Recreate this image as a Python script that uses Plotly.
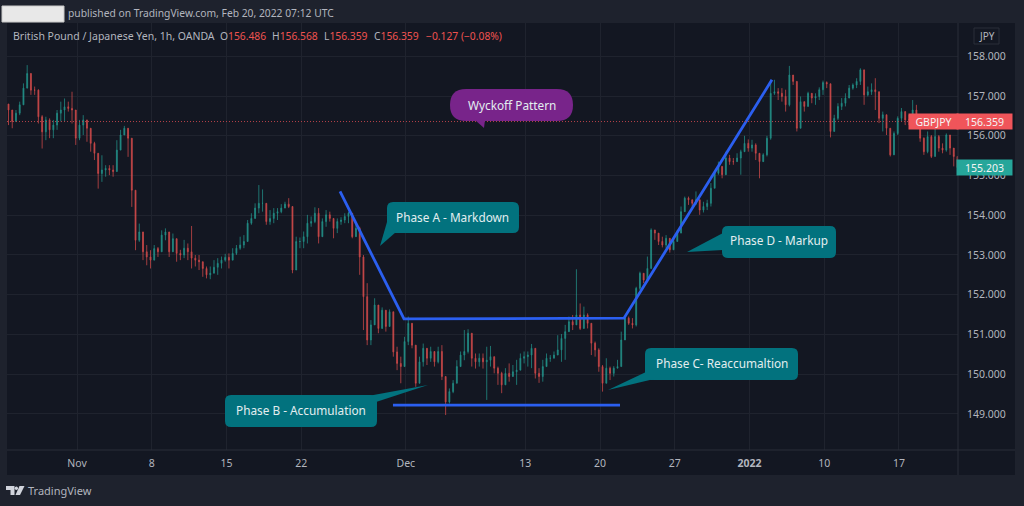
"""GBP/JPY Wyckoff pattern chart."""

import pandas as pd
import plotly.graph_objects as go

# 6h bars, starting Oct 25 2021 10:00
closes = [
    156.65, 156.36, 156.57, 156.78, 157.20, 157.57, 157.15, 157.15, 156.48, 156.10, 156.40, 156.15, 156.27, 156.57, 156.65,
    156.73, 156.69, 156.65, 155.94, 156.27, 156.40, 156.19, 155.81, 155.56, 155.05, 155.14, 155.18, 155.14, 155.10, 155.64,
    156.02, 156.19, 155.94, 154.63, 153.37, 153.58, 153.08, 152.95, 152.87, 153.16, 153.08, 153.50, 153.58, 153.08, 153.41,
    153.04, 153.00, 153.17, 153.08, 152.92, 152.87, 152.83, 152.66, 152.50, 152.54, 152.69, 152.79, 152.87, 152.94, 152.87,
    153.04, 153.17, 153.25, 153.34, 153.80, 153.92, 154.18, 154.30, 154.30, 153.84, 153.92, 154.05, 154.09, 154.18, 154.28,
    154.22, 152.62, 153.34, 153.34, 153.46, 153.80, 153.84, 154.05, 153.46, 153.84, 154.01, 153.92, 153.67, 153.84, 153.88,
    153.97, 154.05, 153.46, 153.67, 152.95, 151.95,
    150.86, 151.24, 151.74, 151.15, 151.61, 151.20, 151.57, 150.56, 150.27, 150.19, 150.82, 151.28, 150.73, 149.77, 150.31,
    150.65, 150.40, 150.57, 150.31, 150.57, 149.94, 149.30, 149.56, 149.77, 150.19, 150.48, 150.57, 151.03, 150.40, 150.31,
    150.40, 150.31, 150.35,
    150.44, 150.15, 150.02, 149.73, 150.02, 149.94, 150.06, 150.10, 150.40, 150.44, 150.48, 150.65, 150.02, 149.94, 150.19,
    150.40, 150.40, 150.48, 150.61, 150.90, 151.07, 151.32, 151.24, 151.49, 151.15, 151.49, 151.28, 150.78, 150.61, 150.19,
    149.77, 150.15, 150.02, 150.15, 150.19, 150.86, 151.41, 151.28, 151.24, 152.16, 152.54, 152.37,
    152.66, 153.63, 153.55, 153.34, 153.25, 153.42, 153.13, 153.34, 153.55, 154.09, 154.43, 154.39, 154.30, 154.39, 154.13,
    154.22, 154.30, 154.68, 155.06, 155.23, 155.02, 155.44, 155.35, 155.35, 155.44, 155.60, 155.81, 155.69, 155.77, 155.56,
    155.35, 155.52, 155.94, 157.07, 157.11, 157.07, 156.99, 156.78,
    157.53, 157.37, 156.19, 156.86, 156.74, 157.07, 156.95, 156.99, 157.16, 157.34, 157.31, 156.11, 156.44, 156.74, 156.82,
    156.95, 157.20, 157.28, 157.37, 157.66, 157.03, 157.11, 157.16, 157.11, 156.44, 156.53, 156.19, 155.52, 156.06, 156.44,
    156.61, 156.40, 156.40, 156.65, 156.44, 155.94, 155.60, 155.98, 155.48, 155.98, 155.69, 155.64, 156.02, 155.69, 155.48,
    155.20,
]
highs = [
    156.78, 156.65, 156.65, 156.86, 157.32, 157.78, 157.28, 157.24, 157.17, 156.52, 156.48, 156.44, 156.40, 156.65, 156.86,
    156.94, 156.86, 157.11, 156.36, 156.40, 156.52, 156.40, 155.94, 155.85, 155.39, 155.51, 155.26, 155.26, 155.26, 155.89,
    156.15, 156.25, 156.19, 155.56, 153.79, 153.79, 153.50, 153.25, 153.12, 153.25, 153.20, 153.62, 153.67, 153.37, 153.54,
    153.17, 153.13, 153.38, 153.29, 153.73, 153.00, 153.00, 152.83, 152.71, 152.71, 152.87, 152.92, 152.96, 153.03, 153.04,
    153.17, 153.25, 153.46, 153.50, 153.88, 154.05, 154.30, 154.76, 154.65, 154.26, 154.13, 154.18, 154.18, 154.28, 154.34,
    154.43, 154.13, 153.46, 153.44, 153.59, 154.01, 153.97, 154.20, 154.18, 153.92, 154.13, 154.09, 153.92, 153.92, 153.95,
    154.05, 154.09, 153.97, 153.80, 153.71, 153.00,
    152.29, 151.36, 151.91, 151.66, 151.68, 151.53, 151.63, 151.28, 150.69, 150.44, 150.94, 151.45, 151.07, 150.69, 150.44,
    150.77, 150.65, 150.69, 150.57, 150.69, 150.73, 149.94, 149.64, 149.85, 150.35, 150.57, 151.11, 151.13, 150.57, 150.52,
    150.52, 150.52, 150.69,
    150.71, 150.36, 150.19, 150.06, 150.15, 150.27, 150.23, 150.36, 150.52, 150.57, 150.57, 150.76, 150.15, 150.15, 150.36,
    150.52, 150.48, 150.57, 150.98, 151.01, 151.24, 151.45, 151.49, 152.64, 151.78, 151.70, 151.53, 151.28, 150.82, 150.65,
    150.23, 150.40, 150.19, 150.20, 150.36, 151.07, 151.45, 151.45, 151.41, 152.20, 152.58, 152.54,
    152.96, 153.67, 153.59, 153.55, 153.46, 153.50, 153.38, 153.46, 153.63, 154.22, 154.47, 154.47, 154.39, 154.60, 154.30,
    154.34, 154.39, 154.81, 155.10, 155.35, 155.23, 155.60, 155.52, 155.44, 155.56, 155.65, 156.00, 155.91, 155.90, 155.81,
    155.56, 155.56, 156.00, 157.41, 157.41, 157.20, 157.20, 157.16,
    157.76, 157.49, 157.32, 156.99, 156.86, 157.11, 157.07, 157.07, 157.22, 157.39, 157.37, 157.28, 156.53, 156.82, 156.95,
    157.07, 157.28, 157.32, 157.45, 157.70, 157.37, 157.24, 157.32, 157.45, 156.70, 156.61, 156.53, 156.15, 156.11, 156.49,
    156.70, 156.53, 156.53, 156.90, 156.78, 156.23, 155.96, 156.11, 156.02, 156.27, 156.02, 155.81, 156.06, 155.81, 155.69,
    155.39,
]
lows = [
    156.27, 156.19, 156.48, 156.52, 156.82, 157.24, 157.03, 157.03, 156.31, 155.68, 155.89, 155.94, 155.94, 156.15, 156.36,
    156.36, 156.61, 156.31, 155.77, 155.89, 156.02, 155.85, 155.60, 155.39, 154.67, 154.84, 154.97, 155.01, 154.97, 155.18,
    155.68, 156.02, 155.47, 154.21, 153.12, 153.33, 152.87, 152.74, 152.66, 152.87, 152.95, 153.29, 153.37, 152.95, 153.20,
    152.83, 152.87, 152.92, 152.87, 152.66, 152.71, 152.62, 152.45, 152.41, 152.39, 152.58, 152.50, 152.66, 152.83, 152.66,
    152.87, 153.00, 153.13, 153.17, 153.59, 153.76, 153.97, 154.05, 154.09, 153.76, 153.76, 153.80, 153.88, 154.05, 154.18,
    154.18, 152.54, 152.83, 153.17, 153.17, 153.29, 153.71, 153.80, 153.29, 153.50, 153.71, 153.84, 153.42, 153.55, 153.76,
    153.80, 153.80, 153.42, 153.59, 152.50, 151.11,
    150.73, 150.73, 151.28, 151.03, 151.15, 151.07, 151.20, 150.44, 150.10, 149.77, 150.19, 150.73, 150.65, 149.68, 149.77,
    150.19, 150.23, 150.31, 150.19, 150.27, 149.85, 148.97, 149.26, 149.52, 149.77, 150.19, 150.35, 150.52, 150.19, 150.14,
    150.19, 150.14, 149.35,
    150.19, 150.02, 149.73, 149.52, 149.73, 149.81, 149.98, 149.73, 150.27, 150.27, 150.19, 150.15, 149.89, 149.78, 149.81,
    150.23, 150.31, 150.40, 150.48, 150.31, 150.36, 151.07, 151.11, 151.32, 151.11, 151.15, 151.15, 150.48, 150.44, 150.06,
    149.56, 149.77, 149.85, 149.94, 150.15, 150.40, 150.98, 151.24, 151.15, 151.20, 152.12, 152.29,
    152.37, 153.08, 153.38, 153.25, 153.19, 153.17, 153.06, 153.13, 153.34, 153.63, 154.13, 154.26, 154.22, 154.26, 154.01,
    154.07, 154.13, 154.22, 154.68, 155.02, 154.93, 155.18, 155.27, 155.27, 155.35, 155.02, 155.65, 155.60, 155.60, 155.39,
    154.93, 155.35, 155.48, 155.90, 157.03, 156.90, 156.86, 156.61,
    156.74, 157.28, 156.11, 156.40, 156.61, 156.86, 156.82, 156.78, 156.90, 157.03, 157.20, 155.96, 156.11, 156.40, 156.65,
    156.74, 156.95, 157.16, 157.20, 157.28, 156.78, 156.99, 157.03, 156.65, 156.32, 156.11, 156.02, 155.48, 155.52, 156.02,
    156.36, 156.27, 156.27, 156.27, 156.23, 155.85, 155.52, 155.56, 155.44, 155.73, 155.60, 155.56, 155.60, 155.52, 155.23,
    155.02,
]

# hand-drawn trend lines
phase_line_x = ["2021-11-24 14:24", "2021-11-30 21:07", "2021-12-21 14:24", "2022-01-04 12:00"]
phase_line_y = [154.60, 151.39, 151.41, 157.41]
support_x = ["2021-11-30 03:24", "2021-12-21 08:00"]
support_y = [149.22, 149.22]

x_ticks = ["2021-11-01", "2021-11-08", "2021-11-15", "2021-11-22", "2021-12-01", "2021-12-13",
           "2021-12-20", "2021-12-27", "2022-01-03", "2022-01-10", "2022-01-17"]
x_labels = ["Nov", "8", "15", "22", "Dec", "13", "20", "27", "<b>2022</b>", "10", "17"]
y_ticks = [149, 150, 151, 152, 153, 154, 155, 156, 157, 158]

last_price = 156.359
ask_price = 155.203

FONT = "Noto Sans"
OUTER = "#1e222d"
PANEL = "#131722"
GRID = "#1f232e"
EDGE = "#2a2e39"
TEXT = "#b2b5be"
RED = "#ef5350"
TEAL = "#26a69a"
CALLOUT = "#02727e"
PURPLE = "#78248a"
W, H = 1024, 506
LEFT, RIGHT, TOP, BOTTOM = 7, 958, 23, 450

dates = pd.date_range("2021-10-25 10:00", periods=400, freq="6h")
dates = dates[dates.weekday < 5][: len(closes)]
opens = [156.80] + closes[:-1]
highs = [max(v) for v in zip(highs, opens, closes)]
lows = [min(v) for v in zip(lows, opens, closes)]


def px(x):
    return (x - LEFT) / (RIGHT - LEFT)


def py(y):
    return (BOTTOM - y) / (BOTTOM - TOP)


def poly(points, fill):
    path = "M " + " L ".join(f"{px(x):.5f} {py(y):.5f}" for x, y in points) + " Z"
    return dict(type="path", xref="paper", yref="paper", path=path, fillcolor=fill, line_width=0, layer="above")


def round_box(x0, y0, x1, y1, r, fill):
    p = lambda x, y: f"{px(x):.5f} {py(y):.5f}"
    path = (
        f"M {p(x0 + r, y0)} L {p(x1 - r, y0)} Q {p(x1, y0)} {p(x1, y0 + r)} L {p(x1, y1 - r)} "
        f"Q {p(x1, y1)} {p(x1 - r, y1)} L {p(x0 + r, y1)} Q {p(x0, y1)} {p(x0, y1 - r)} "
        f"L {p(x0, y0 + r)} Q {p(x0, y0)} {p(x0 + r, y0)} Z"
    )
    return dict(type="path", xref="paper", yref="paper", path=path, fillcolor=fill, line_width=0, layer="above")


def label(x, y, text, size=11.8, color="#e3eef0", anchor="center"):
    return dict(
        xref="paper", yref="paper", x=px(x), y=py(y), text=text, showarrow=False,
        xanchor=anchor, yanchor="middle", font=dict(family=FONT, size=size, color=color),
    )


def tag(y, text, x0, x1, fill):
    return dict(
        xref="paper", yref="y", x=px((x0 + x1) / 2), y=y, text=text, showarrow=False, bgcolor=fill,
        width=x1 - x0, height=13, borderpad=1, xanchor="center", yanchor="middle",
        font=dict(family=FONT, size=10.5, color="#f4f4f4"),
    )


fig = go.Figure()
fig.add_trace(go.Candlestick(
    x=dates, open=opens, high=highs, low=lows, close=closes,
    increasing=dict(line=dict(color=TEAL, width=0.8), fillcolor=TEAL),
    decreasing=dict(line=dict(color=RED, width=0.8), fillcolor=RED),
    opacity=0.82, hoverinfo="skip", showlegend=False,
))
for xs, ys in [(phase_line_x, phase_line_y), (support_x, support_y)]:
    fig.add_trace(go.Scatter(
        x=xs, y=ys, mode="lines", line=dict(color="#2b5ff0", width=2.8),
        hoverinfo="skip", showlegend=False,
    ))

shapes = [
    # chart panel and axis edges
    dict(type="rect", xref="paper", yref="paper", x0=px(LEFT), x1=px(1015), y0=py(475), y1=py(TOP),
         fillcolor=PANEL, line_width=0, layer="below"),
    dict(type="line", xref="paper", yref="paper", x0=px(LEFT), x1=px(1015), y0=0, y1=0,
         line=dict(color=EDGE, width=1), layer="above"),
    dict(type="line", xref="paper", yref="paper", x0=1, x1=1, y0=py(475), y1=py(TOP),
         line=dict(color=EDGE, width=1), layer="above"),
    # last price line
    dict(type="line", xref="paper", yref="y", x0=0, x1=1, y0=last_price, y1=last_price,
         line=dict(color="#b8434a", width=1, dash="1px,2px"), layer="above"),
    # blanked author box
    dict(type="rect", xref="paper", yref="paper", x0=px(2), x1=px(64), y0=py(22), y1=py(6),
         fillcolor="#e8e8e8", line=dict(color="#c9c9c9", width=1), layer="above"),
    # JPY button
    dict(type="rect", xref="paper", yref="paper", x0=px(974), x1=px(999), y0=py(44), y1=py(28),
         fillcolor=PANEL, line=dict(color=EDGE, width=1), layer="above"),
    # callouts
    round_box(450, 89, 573, 121, 16, PURPLE),
    poly([(475, 120), (485, 120), (484, 128)], PURPLE),
    round_box(387, 202, 519, 233, 6, CALLOUT),
    poly([(387, 222), (396, 232), (380, 246)], CALLOUT),
    round_box(225, 395, 377, 427, 6, CALLOUT),
    poly([(368, 396), (428, 385), (376, 402)], CALLOUT),
    round_box(645, 348, 798, 380, 6, CALLOUT),
    poly([(646, 372), (654, 379), (608, 390)], CALLOUT),
    round_box(722, 226, 836, 258, 6, CALLOUT),
    poly([(723, 233), (723, 250), (687, 252)], CALLOUT),
    # TradingView logo
    poly([(6, 486), (14.5, 486), (14.5, 495), (10.5, 495), (10.5, 490), (6, 490)], "#d1d4dc"),
    dict(type="circle", xref="paper", yref="paper", x0=px(14.7), x1=px(18), y0=py(490), y1=py(486.5),
         fillcolor="#d1d4dc", line_width=0, layer="above"),
    poly([(19.5, 486), (24.5, 486), (20, 495), (15.5, 495)], "#d1d4dc"),
]

annotations = [
    label(65.5, 12.5, "published on TradingView.com, Feb 20, 2022 07:12 UTC", 10.3, TEXT, "left"),
    label(11, 36, "British Pound / Japanese Yen, 1h, OANDA", 10.5, TEXT, "left"),
    label(986.5, 36, "JPY", 10, TEXT),
    label(512, 105, "Wyckoff Pattern"),
    label(452, 217, "Phase A - Markdown"),
    label(301, 410, "Phase B - Accumulation"),
    label(721.5, 363, "Phase C- Reaccumaltion"),
    label(778.5, 240, "Phase D - Markup"),
    label(25.5, 491, "TradingView", 11, TEXT, "left"),
    tag(last_price, "GBPJPY", 910, 957, "#f0555a"),
    tag(last_price, "156.359", 958, 1011, "#f0555a"),
    tag(ask_price, "155.203", 958, 1011, TEAL),
]
for pos, letter, value in [(218, "O", "156.486"), (270, "H", "156.568"), (322, "L", "156.359"), (372, "C", "156.359")]:
    annotations.append(label(pos, 36, f'<span style="color:{TEXT}">{letter}</span>{value}', 10.3, RED, "left"))
annotations.append(label(424, 36, "−0.127 (−0.08%)", 10.3, RED, "left"))

fig.update_layout(
    width=W, height=H, margin=dict(l=LEFT, r=W - RIGHT, t=TOP, b=H - BOTTOM, pad=0),
    paper_bgcolor=OUTER, plot_bgcolor=PANEL, showlegend=False, hovermode=False,
    font=dict(family=FONT, size=10.5, color=TEXT), boxgap=0.65,
    shapes=shapes, annotations=annotations,
)
fig.update_xaxes(
    type="date", range=["2021-10-25 07:35", "2022-01-20 22:48"], rangeslider_visible=False,
    rangebreaks=[dict(bounds=["sat", "mon"])],
    tickmode="array", tickvals=x_ticks, ticktext=x_labels, ticks="", ticklabelstandoff=5,
    showgrid=True, gridcolor=GRID, gridwidth=1, zeroline=False, showline=False,
)
fig.update_yaxes(
    side="right", range=[148.09, 158.84], tickmode="array", tickvals=y_ticks, tickformat=".3f",
    ticks="", ticklabelstandoff=8, showgrid=True, gridcolor=GRID, gridwidth=1, zeroline=False, showline=False,
)

fig.write_html(
    "out.html",
    config={"displayModeBar": False},
    post_script="document.body.style.margin='0';document.body.style.background='#1e222d';",
)
